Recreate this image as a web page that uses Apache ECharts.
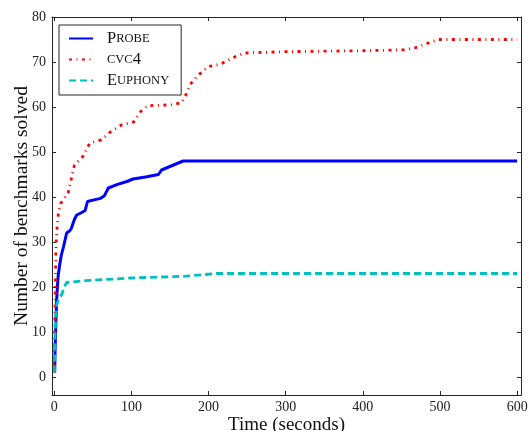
<!DOCTYPE html>
<html>
<head>
<meta charset="utf-8">
<script src="https://cdn.jsdelivr.net/npm/echarts@6/dist/echarts.min.js"></script>
<style>
  html, body { margin: 0; padding: 0; background: #ffffff; }
  #chart { width: 529px; height: 431px; }
</style>
</head>
<body>
<div id="chart"></div>
<script>
// Cumulative number of benchmarks solved over time, one [seconds, count] pair per step
const probeData = [
  [0.5, 1], [1, 6], [2, 12], [3, 17], [4, 20], [5, 22.5], [7, 25], [9, 27], [12, 29],
  [16, 32], [20, 32.5], [22, 33], [26, 35], [29, 36], [35, 36.5], [40, 37], [43, 39],
  [50, 39.3], [60, 39.7], [65, 40.3], [68, 41.3], [70, 42], [82, 42.8], [95, 43.5],
  [102, 44], [120, 44.5], [135, 45], [139, 46], [167, 48], [600, 48]
];
const cvc4Data = [
  [0, 1], [0.5, 8], [1, 16], [1.5, 22], [2, 28], [3, 32], [5, 36], [8, 38.5], [12, 39.5],
  [18, 41], [22, 44], [26, 47], [37, 49], [46, 52], [61, 52.7], [73, 54.5], [87, 56],
  [103, 56.7], [112, 59], [121, 60.3], [154, 60.5], [165, 61], [170, 62.5], [176, 65],
  [186, 67], [200, 69], [215, 69.5], [232, 71], [247, 72], [300, 72.3], [400, 72.5],
  [452, 72.7], [467, 73.1], [483, 74.1], [498, 75], [600, 75]
];
const euphonyData = [
  [0, 1], [0.5, 5], [1, 10], [2, 14], [3, 16], [5, 17], [10, 18.5], [13, 20], [16, 21],
  [40, 21.4], [100, 22], [170, 22.4], [210, 23], [600, 23]
];
const seriesNames = ['Probe', 'cvc4', 'Euphony'];
const xTitle = 'Time (seconds)';
const yTitle = 'Number of benchmarks solved';
const xRange = [-3, 605];
const yRange = [-4, 80];

const SERIF = '"Liberation Serif", "DejaVu Serif", serif';
const FRAME = '#262626';

// small-caps style names in the legend
const legendRich = {
  big: { fontFamily: SERIF, fontSize: 16.5, lineHeight: 14, color: '#111' },
  sc: { fontFamily: SERIF, fontSize: 12.5, lineHeight: 14, color: '#111' }
};
function smallCaps(name) {
  if (name === 'cvc4') return '{sc|CVC}{big|4}';
  return '{big|' + name[0] + '}{sc|' + name.slice(1).toUpperCase() + '}';
}

const onlyWhole = step => v => (Math.abs(v % step) < 1e-9 ? String(v) : '');

const frameAxis = () => ({
  axisLine: { show: true, onZero: false, lineStyle: { color: FRAME, width: 1 } },
  axisTick: { show: true, inside: true, length: 4, lineStyle: { color: FRAME, width: 1 } },
  splitLine: { show: false }
});

const chart = echarts.init(document.getElementById('chart'), null, { renderer: 'canvas' });
chart.setOption({
  animation: false,
  backgroundColor: '#ffffff',
  grid: { left: 52, right: 8, top: 17, bottom: 36, containLabel: false, outerBoundsMode: 'none' },
  xAxis: [
    Object.assign({
      type: 'value', position: 'bottom', min: xRange[0], max: xRange[1], splitNumber: 6,
      name: xTitle, nameLocation: 'middle', nameGap: 21, nameMoveOverlap: false,
      nameTextStyle: { fontFamily: SERIF, fontSize: 19, color: '#111' },
      axisLabel: {
        margin: 5, fontFamily: SERIF, fontSize: 14, color: '#222',
        formatter: onlyWhole(100)
      }
    }, frameAxis()),
    Object.assign({
      type: 'value', position: 'top', min: xRange[0], max: xRange[1], splitNumber: 6,
      axisLabel: { show: false }
    }, frameAxis())
  ],
  yAxis: [
    Object.assign({
      type: 'value', position: 'left', min: yRange[0], max: yRange[1], splitNumber: 8,
      name: yTitle, nameLocation: 'middle', nameGap: 20, nameRotate: 90, nameMoveOverlap: false,
      nameTextStyle: { fontFamily: SERIF, fontSize: 19.5, color: '#111' },
      axisLabel: {
        margin: 6, fontFamily: SERIF, fontSize: 14, color: '#222',
        formatter: onlyWhole(10)
      }
    }, frameAxis()),
    Object.assign({
      type: 'value', position: 'right', min: yRange[0], max: yRange[1], splitNumber: 8,
      axisLabel: { show: false }
    }, frameAxis())
  ],
  legend: {
    orient: 'vertical',
    left: 59, top: 25,
    padding: [5, 12, 6, 9],
    itemWidth: 24, itemHeight: 14, itemGap: 4,
    backgroundColor: '#ffffff',
    borderColor: FRAME, borderWidth: 1, borderRadius: 0,
    data: seriesNames,
    formatter: smallCaps,
    itemStyle: { opacity: 0 },
    textStyle: { rich: legendRich, lineHeight: 14, padding: [0, 0, 0, 9] }
  },
  series: [
    {
      name: seriesNames[0], type: 'line', data: probeData, symbol: 'none',
      xAxisIndex: 0, yAxisIndex: 0,
      lineStyle: { color: '#0000ff', width: 3 }, itemStyle: { color: '#0000ff' }
    },
    {
      name: seriesNames[1], type: 'line', data: cvc4Data, symbol: 'none',
      xAxisIndex: 0, yAxisIndex: 0,
      lineStyle: { color: '#ff0000', width: 2.8, type: [3, 4.5, 1, 4.5] },
      itemStyle: { color: '#ff0000' }
    },
    {
      name: seriesNames[2], type: 'line', data: euphonyData, symbol: 'none',
      xAxisIndex: 0, yAxisIndex: 0,
      lineStyle: { color: '#00bfbf', width: 2.8, type: [7, 4] },
      itemStyle: { color: '#00bfbf' }
    }
  ]
});
</script>
</body>
</html>
